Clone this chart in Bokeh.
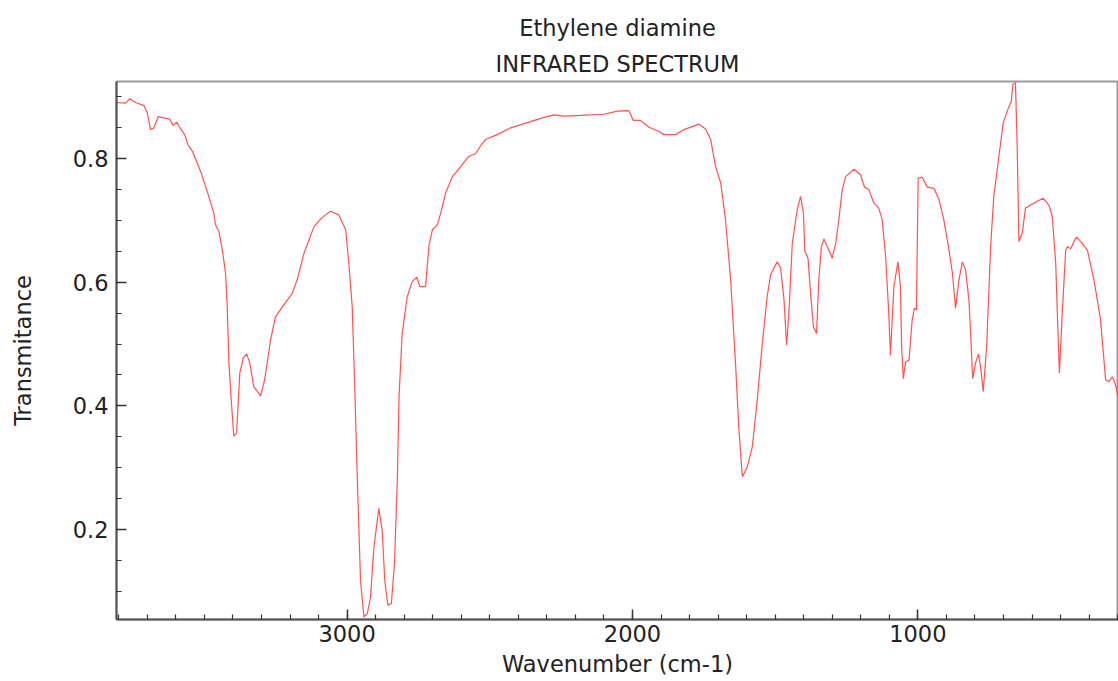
from bokeh.plotting import figure
from bokeh.models import Range1d, FixedTicker, Title
from bokeh.embed import file_html
from bokeh.resources import INLINE

# Wavenumber (cm-1) and transmittance
wavenumber = [
    3808, 3776, 3762, 3741, 3712, 3700, 3689, 3677, 3662, 3642, 3621, 3610, 3597, 3583,
    3569, 3558, 3542, 3513, 3490, 3467, 3461, 3449, 3437, 3426, 3420, 3414, 3406, 3397,
    3387, 3376, 3364, 3352, 3341, 3327, 3303, 3289, 3268, 3251, 3227, 3192, 3175, 3151,
    3116, 3087, 3058, 3029, 3005, 2994, 2982, 2974, 2964, 2953, 2941, 2929, 2918, 2906,
    2889, 2877, 2868, 2857, 2845, 2834, 2824, 2818, 2807, 2789, 2772, 2756, 2745, 2725,
    2713, 2701, 2684, 2672, 2655, 2631, 2602, 2573, 2550, 2532, 2515, 2474, 2427, 2357,
    2310, 2275, 2240, 2182, 2100, 2053, 2013, 1997, 1972, 1942, 1907, 1890, 1849, 1820,
    1767, 1744, 1726, 1709, 1691, 1674, 1656, 1639, 1627, 1615, 1598, 1580, 1563, 1545,
    1528, 1516, 1493, 1481, 1469, 1460, 1452, 1440, 1423, 1411, 1401, 1396, 1385, 1376,
    1366, 1355, 1347, 1338, 1329, 1315, 1300, 1288, 1277, 1265, 1253, 1224, 1201, 1187,
    1172, 1154, 1137, 1125, 1113, 1102, 1096, 1084, 1070, 1061, 1057, 1051, 1043, 1031,
    1020, 1012, 1005, 999, 985, 967, 944, 926, 909, 891, 879, 868, 856, 844,
    833, 821, 815, 808, 798, 788, 780, 771, 759, 745, 734, 716, 701, 687,
    673, 667, 658, 652, 646, 634, 623, 605, 582, 561, 541, 529, 517, 509,
    504, 494, 482, 476, 465, 453, 444, 424, 406, 383, 360, 342, 331, 319,
    311, 297, 290,
]
transmittance = [
    0.891, 0.890, 0.897, 0.891, 0.886, 0.874, 0.847, 0.850, 0.868, 0.866, 0.864, 0.854, 0.859, 0.848,
    0.839, 0.823, 0.812, 0.779, 0.747, 0.712, 0.693, 0.682, 0.652, 0.615, 0.560, 0.469, 0.409, 0.351,
    0.356, 0.453, 0.477, 0.484, 0.469, 0.431, 0.416, 0.442, 0.507, 0.544, 0.560, 0.582, 0.604, 0.647,
    0.690, 0.705, 0.715, 0.709, 0.685, 0.631, 0.560, 0.442, 0.280, 0.117, 0.058, 0.064, 0.090, 0.171,
    0.234, 0.198, 0.117, 0.077, 0.080, 0.144, 0.280, 0.415, 0.517, 0.577, 0.601, 0.608, 0.593, 0.593,
    0.660, 0.685, 0.693, 0.712, 0.744, 0.771, 0.787, 0.804, 0.808, 0.821, 0.831, 0.839, 0.850, 0.860,
    0.867, 0.871, 0.869, 0.870, 0.872, 0.877, 0.878, 0.862, 0.862, 0.851, 0.844, 0.839, 0.839, 0.847,
    0.856, 0.848, 0.831, 0.788, 0.761, 0.701, 0.604, 0.469, 0.361, 0.285, 0.301, 0.334, 0.409, 0.501,
    0.577, 0.612, 0.633, 0.623, 0.571, 0.498, 0.550, 0.663, 0.717, 0.739, 0.712, 0.650, 0.639, 0.582,
    0.528, 0.517, 0.604, 0.658, 0.670, 0.655, 0.639, 0.663, 0.701, 0.750, 0.771, 0.783, 0.774, 0.754,
    0.750, 0.728, 0.720, 0.701, 0.642, 0.550, 0.482, 0.593, 0.633, 0.593, 0.496, 0.444, 0.471, 0.474,
    0.539, 0.558, 0.555, 0.769, 0.770, 0.754, 0.752, 0.734, 0.701, 0.652, 0.615, 0.558, 0.604, 0.633,
    0.620, 0.571, 0.517, 0.444, 0.469, 0.484, 0.463, 0.423, 0.496, 0.658, 0.739, 0.804, 0.858, 0.877,
    0.893, 0.920, 0.923, 0.820, 0.666, 0.680, 0.720, 0.725, 0.731, 0.736, 0.725, 0.706, 0.631, 0.517,
    0.453, 0.550, 0.652, 0.658, 0.654, 0.666, 0.673, 0.663, 0.652, 0.604, 0.539, 0.442, 0.439, 0.447,
    0.439, 0.415, 0.400,
]

x_major = [1000, 2000, 3000]
x_minor = list(range(300, 3900, 100))
y_major = [0.2, 0.4, 0.6, 0.8]
y_minor = [round(0.05 * i, 2) for i in range(1, 19)]

FS = "22.5px"

p = figure(
    width=1118, height=681,
    x_range=Range1d(3808, 297), y_range=Range1d(0.054, 0.925),
    output_backend="svg", toolbar_location=None,
    min_border_left=116, min_border_right=0, min_border_top=81, min_border_bottom=62,
    background_fill_color="white", border_fill_color="white",
)

p.add_layout(Title(text="INFRARED SPECTRUM", align="center", text_font="DejaVu Sans",
                   text_font_size=FS, text_font_style="normal", text_color="#222222",
                   offset=6, standoff=9), "above")
p.add_layout(Title(text="Ethylene diamine", align="center", text_font="DejaVu Sans",
                   text_font_size=FS, text_font_style="normal", text_color="#222222",
                   offset=6, standoff=8), "above")

p.line(wavenumber, transmittance, line_color="#ff3333", line_width=1.2, line_alpha=0.85)

p.xgrid.visible = False
p.ygrid.visible = False
p.outline_line_color = "#9a9a9a"
p.outline_line_width = 2

p.xaxis.ticker = FixedTicker(ticks=x_major, minor_ticks=x_minor)
p.yaxis.ticker = FixedTicker(ticks=y_major, minor_ticks=y_minor)
p.xaxis.axis_label = "Wavenumber (cm-1)"
p.yaxis.axis_label = "Transmitance"

for ax in (p.xaxis[0], p.yaxis[0]):
    ax.axis_line_color = "#555555"
    ax.axis_line_width = 2
    ax.major_tick_line_color = "#333333"
    ax.minor_tick_line_color = "#333333"
    ax.major_tick_line_width = 1.5
    ax.minor_tick_line_width = 1.2
    ax.major_tick_in = 10
    ax.major_tick_out = 0
    ax.minor_tick_in = 5
    ax.minor_tick_out = 0
    ax.major_label_text_font = "DejaVu Sans"
    ax.major_label_text_font_size = FS
    ax.major_label_text_color = "#222222"
    ax.axis_label_text_font = "DejaVu Sans"
    ax.axis_label_text_font_size = FS
    ax.axis_label_text_font_style = "normal"
    ax.axis_label_text_color = "#222222"

p.xaxis.major_label_standoff = 5
p.xaxis.axis_label_standoff = 6
p.yaxis.major_label_standoff = 8
p.yaxis.axis_label_standoff = 34

open("out.html", "w").write(file_html(p, INLINE))
